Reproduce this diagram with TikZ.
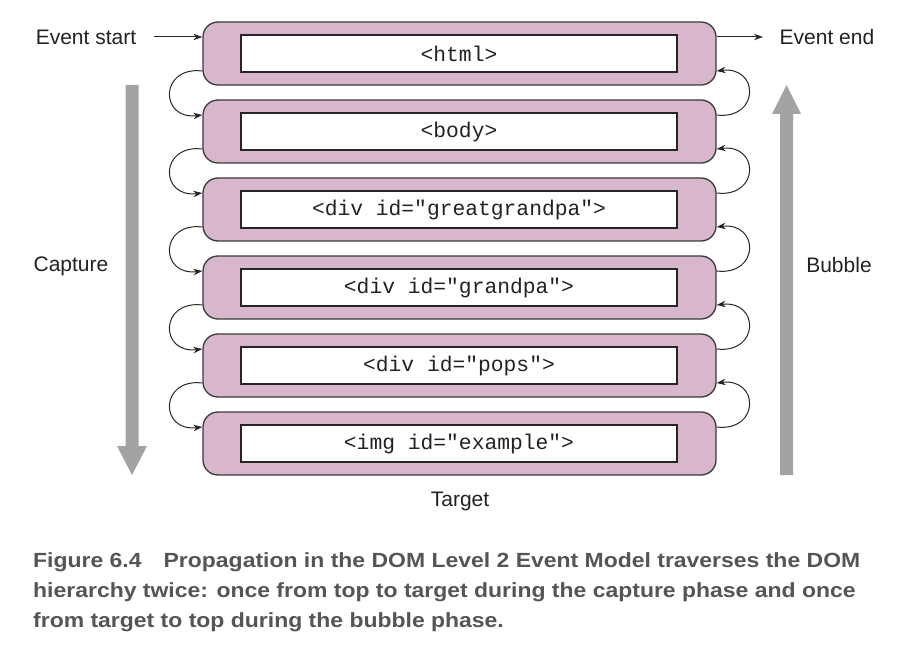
\documentclass[tikz,border=0pt]{standalone}
\usepackage{fontspec}
\setmainfont{Liberation Sans}
\newfontfamily\monof{Liberation Mono}
\newfontfamily\capfont[FakeStretch=1.12]{Liberation Sans Bold}
\usetikzlibrary{arrows.meta,calc}
\definecolor{pinkbox}{HTML}{D8B7CC}
\definecolor{boxline}{HTML}{3A3A3A}
\definecolor{greyarrow}{HTML}{A3A3A3}
\definecolor{captext}{HTML}{555555}
\definecolor{labtext}{HTML}{222222}
\begin{document}
\begin{tikzpicture}[x=1pt,y=-1pt,
  outerbox/.style={draw=boxline,line width=1.3pt,fill=pinkbox,rounded corners=15pt,
    minimum width=513pt,minimum height=63pt,inner sep=0pt},
  innerbox/.style={draw=black!85,line width=2.4pt,fill=white,
    minimum width=436pt,minimum height=37pt,inner sep=0pt,
    font=\monof\fontsize{21.3}{24}\selectfont,text=labtext},
  lab/.style={font=\fontsize{21}{24}\selectfont,text=labtext,inner sep=0pt},
  hop/.style={draw=black!85,line width=1pt,-{Stealth[length=9pt,width=6.5pt]}},
  capline/.style={anchor=base west,inner sep=0pt,text=captext,
    font=\capfont\fontsize{20.5}{25}\selectfont}]
\useasboundingbox (0,0) rectangle (918,652);

\foreach \i/\t in {1/{<html>},2/{<body>},3/{<div id="greatgrandpa">},4/{<div id="grandpa">},5/{<div id="pops">},6/{<img id="example">}}{
  \node[outerbox] (o\i) at (459.5,{53.5+78*(\i-1)}) {};
  \node[innerbox] (n\i) at (459,{53.5+78*(\i-1)}) {\t};
}

% capture hops (left) and bubble hops (right)
\foreach \i/\j in {1/2,2/3,3/4,4/5,5/6}{
  \draw[hop] ($(o\i.west)+(0,17.5)$) .. controls +(-43,-5) and +(-43,5) .. ($(o\j.west)+(0,-16.5)$);
  \draw[hop] ($(o\j.east)+(0,-16.5)$) .. controls +(43,5) and +(43,-5) .. ($(o\i.east)+(0,17.5)$);
}

% event start / end
\node[lab] (es) at (86,37) {Event start};
\node[lab] (ee) at (827,37) {Event end};
\coordinate (esA) at (154,37);
\coordinate (eeB) at (763,37);
\draw[hop] (esA) -- ($(o1.west)+(0,-16.5)$);
\draw[hop] ($(o1.east)+(0,-16.5)$) -- (eeB);

% grey arrows
\fill[greyarrow] (125.5,85) -- (138.5,85) -- (138.5,446) -- (147,446) -- (132,475) -- (117,446) -- (125.5,446) -- cycle;
\fill[greyarrow] (780,475) -- (793,475) -- (793,114) -- (801,114) -- (786.5,85) -- (772,114) -- (780,114) -- cycle;

\node[lab] (cap) at (71,266.5) {Capture};
\node[lab] (bub) at (839,265) {Bubble};
\node[lab] (tgt) at (460,501) {Target};

% caption
\node[capline] (c1) at (33,567) {Figure 6.4\hspace{22pt}Propagation in the DOM Level 2 Event Model traverses the DOM};
\node[capline] (c2) at (33,597) {hierarchy twice: once from top to target during the capture phase and once};
\node[capline] (c3) at (33,627) {from target to top during the bubble phase.};
\end{tikzpicture}
\end{document}
